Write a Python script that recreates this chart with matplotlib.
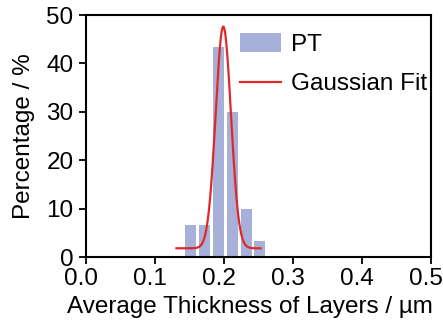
import numpy as np
import matplotlib.pyplot as plt
from matplotlib.transforms import ScaledTranslation

plt.rcParams["font.family"] = ["Liberation Sans", "DejaVu Sans"]

# histogram of layer thickness (bin centres in um, percentage per bin)
bin_centers = [0.152, 0.172, 0.192, 0.212, 0.232, 0.252]
percentages = [6.67, 6.67, 43.3, 30.0, 10.0, 3.33]
bar_width = 0.016

# gaussian fit parameters: offset, amplitude, centre, sigma
fit_y0 = 1.8
fit_amp = 45.8
fit_xc = 0.199
fit_sigma = 0.0111
fit_range = (0.131, 0.253)

x_ticks = [0.0, 0.1, 0.2, 0.3, 0.4, 0.5]
y_ticks = [0, 10, 20, 30, 40, 50]

fig = plt.figure(figsize=(4.43, 3.29), dpi=100)
ax = fig.add_axes([0.1941, 0.2188, 0.7788, 0.7356])

bars = ax.bar(bin_centers, percentages, width=bar_width, color="#a7b0d8",
              edgecolor="none", label="PT", zorder=2)

xf = np.linspace(fit_range[0], fit_range[1], 300)
yf = fit_y0 + fit_amp * np.exp(-(xf - fit_xc) ** 2 / (2 * fit_sigma ** 2))
line, = ax.plot(xf, yf, color="#e0282a", lw=1.6, label="Gaussian Fit", zorder=3)

ax.set_xlim(0, 0.5)
ax.set_ylim(0, 50)
ax.set_xticks(x_ticks)
ax.set_xticklabels([f"{t:.1f}" for t in x_ticks])
ax.set_yticks(y_ticks)

fs = 17.5
ax.tick_params(direction="out", length=5, width=1.3, labelsize=fs,
               top=False, right=False)
ax.tick_params(axis="x", pad=3)
ax.tick_params(axis="y", pad=4)
for s in ax.spines.values():
    s.set_linewidth(1.5)

# x tick labels sit a little left of their ticks
shift = ScaledTranslation(-5 / 100, 0, fig.dpi_scale_trans)
for lab in ax.get_xticklabels():
    lab.set_transform(lab.get_transform() + shift)

ax.set_xlabel("Average Thickness of Layers / µm", fontsize=fs)
ax.xaxis.set_label_coords(0.476, -0.16)
ax.set_ylabel("Percentage / %", fontsize=fs)
ax.yaxis.set_label_coords(-0.148, 0.5)

ax.legend([bars, line], ["PT", "Gaussian Fit"], loc="upper left",
          bbox_to_anchor=(0.446, 0.926), frameon=False, fontsize=fs,
          handlelength=1.7, handleheight=0.8, handletextpad=0.4,
          labelspacing=0.7, borderaxespad=0, borderpad=0)

fig.savefig("out.png", dpi=100)
